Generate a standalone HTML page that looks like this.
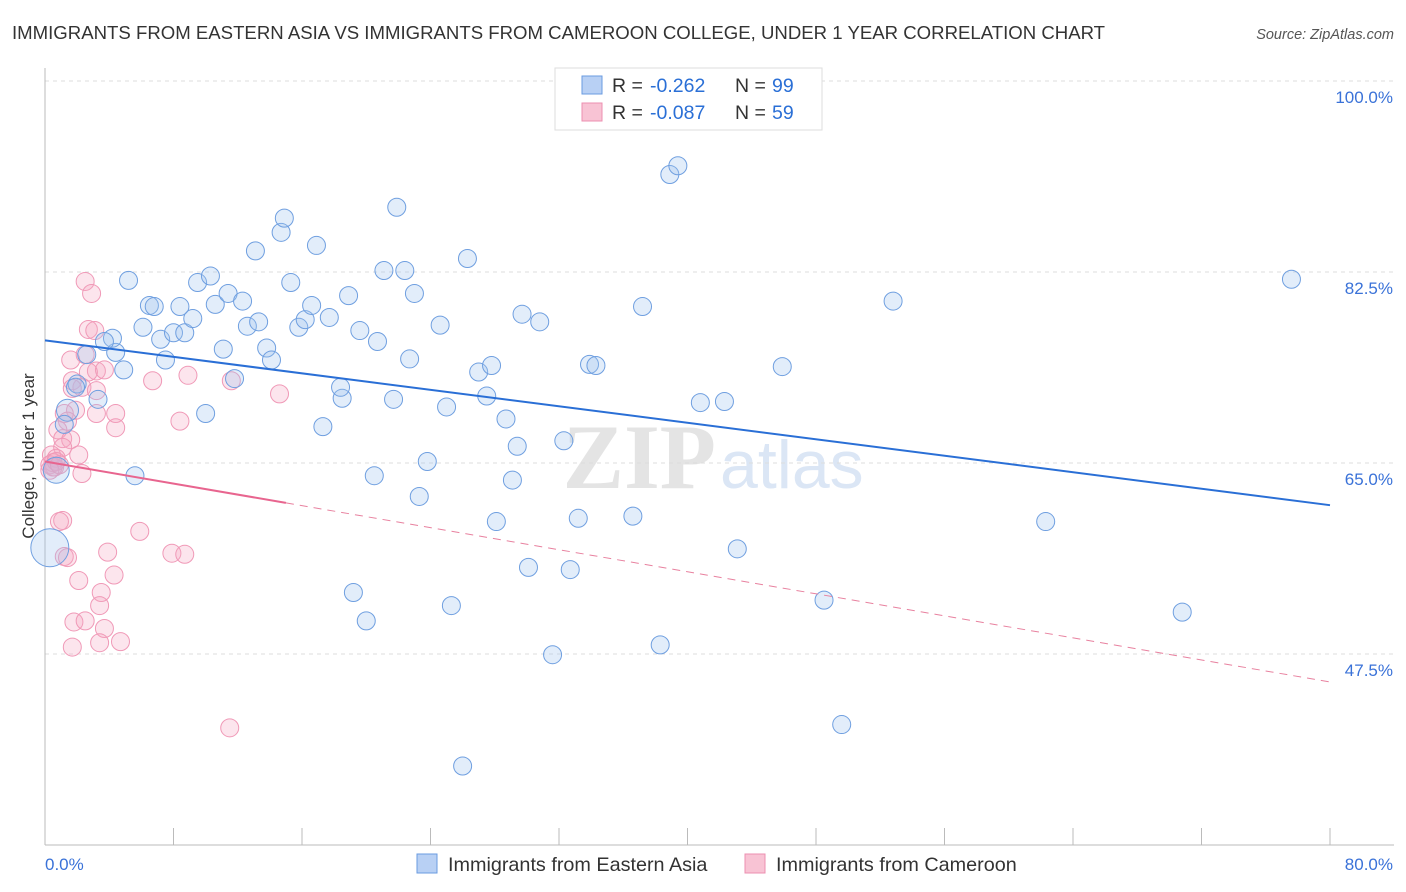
<!DOCTYPE html>
<html><head><meta charset="utf-8"><style>
body{margin:0;background:#fff;font-family:"Liberation Sans",sans-serif;}
#c{position:relative;width:1406px;height:892px;overflow:hidden}
</style></head><body>
<div id="c">
<svg id="s" width="1406" height="892">
<text x="12" y="39" font-size="18.6" fill="#333">IMMIGRANTS FROM EASTERN ASIA VS IMMIGRANTS FROM CAMEROON COLLEGE, UNDER 1 YEAR CORRELATION CHART</text>
<text x="1394" y="39" font-size="14.5" fill="#555" font-style="italic" text-anchor="end">Source: ZipAtlas.com</text>
<text x="716" y="488" font-size="92" fill="#e4e4e4" text-anchor="end" font-family="Liberation Serif" font-weight="bold">ZIP</text>
<text x="720" y="488" font-size="68" fill="#dbe6f5">atlas</text>
<text x="34" y="456" font-size="17" fill="#333" text-anchor="middle" transform="rotate(-90 34 456)">College, Under 1 year</text>
<g id="g"></g>
</svg>
</div>
<script>
const blueX=[5.2,6.5,6.8,8.4,6.1,7.2,8.0,8.7,9.2,9.5,10.3,10.6,11.4,12.3,12.6,13.3,13.1,14.7,14.9,13.8,14.1,11.8,11.1,10.0,7.5,4.9,4.4,4.2,3.7,2.6,2.0,1.9,3.3,1.4,1.2,0.3,0.7,5.6,15.3,15.8,16.2,16.6,16.9,17.7,18.9,19.6,20.7,21.1,22.4,23.0,21.9,22.7,24.6,26.3,27.0,27.8,27.5,28.7,29.4,25.0,21.7,18.5,18.4,17.3,20.5,23.3,23.8,29.1,28.1,30.1,32.7,33.2,32.3,33.9,34.3,29.7,30.8,37.2,36.6,38.9,39.4,40.8,42.3,43.1,45.9,52.8,62.3,77.6,70.8,48.5,49.6,38.3,31.6,26.0,25.3,20.0,19.2];
const blueY=[83.2,80.9,80.8,80.8,78.9,77.8,78.4,78.4,79.7,83.0,83.6,81.0,82.0,81.3,79.0,79.4,85.9,87.6,88.9,77.0,75.9,74.2,76.9,71.0,75.9,75.0,76.6,77.9,77.6,76.4,73.7,73.4,72.3,71.3,70.0,58.7,65.8,65.3,83.0,78.9,79.6,80.9,86.4,79.8,81.8,78.6,77.6,84.1,84.1,82.0,89.9,76.0,79.1,85.2,74.8,75.4,72.6,70.5,68.0,71.6,72.3,72.4,73.4,69.8,65.3,63.4,66.6,64.9,61.1,56.9,56.7,61.4,68.5,75.5,75.4,80.1,79.4,80.8,61.6,92.9,93.7,72.0,72.1,58.6,75.3,81.3,61.1,83.3,52.8,53.9,42.5,49.8,48.9,38.7,53.4,52.0,54.6];
const blueR=[9,9,9,9,9,9,9,9,9,9,9,9,9,9,9,9,9,9,9,9,9,9,9,9,9,9,9,9,9,9,9,9,9,11,9,19,13,9];
const pinkX=[2.5,2.9,2.7,3.1,1.6,2.5,3.2,3.7,2.7,1.7,2.3,3.2,1.7,1.9,1.2,3.2,4.4,4.4,1.4,0.8,1.1,1.6,1.1,2.1,0.4,0.7,0.3,0.6,2.3,0.5,1.1,0.9,1.2,1.4,2.1,3.9,5.9,7.9,8.7,4.3,3.5,3.4,1.8,2.5,3.7,1.7,3.4,4.7,6.7,8.9,8.4,11.6,14.6,11.5,0.5,0.7,0.3,0.9];
const pinkY=[83.1,82.0,78.7,78.6,75.9,76.4,74.9,75.0,74.8,74.0,73.4,73.1,73.3,71.3,71.0,71.0,71.0,69.7,70.3,69.5,68.7,68.6,67.9,67.2,67.2,66.9,66.3,66.1,65.5,66.5,61.2,61.1,57.9,57.8,55.7,58.3,60.2,58.2,58.1,56.2,54.6,53.4,51.9,52.0,51.3,49.6,50.0,50.1,74.0,74.5,70.3,74.0,72.8,42.2,66.1,66.6,65.8,66.3];
const blueTrend=[77.7,62.6];
const pinkTrend=[66.6,46.4];
const pinkSolidEnd=15;
const yTicks=[100,82.5,65,47.5];
const yTickLabels=["100.0%","82.5%","65.0%","47.5%"];
const xTicks=[0,8,16,24,32,40,48,56,64,72,80];
const xEndLabels=["0.0%","80.0%"];
const legendR=["-0.262","-0.087"], legendN=["99","59"];
const sx=v=>45+v*1285/80, sy=v=>97+(100-v)*10.914;
const NS="http://www.w3.org/2000/svg", g=document.getElementById('g');
function mk(t,a,p){const e=document.createElementNS(NS,t);for(const k in a)e.setAttribute(k,a[k]);(p||g).appendChild(e);return e;}
yTicks.forEach((v,i)=>{
 const l=mk('line',{x1:45,x2:1394,y1:sy(v)-16,y2:sy(v)-16,stroke:'#ddd','stroke-dasharray':'4 4'});
 
 
 const t=mk('text',{x:1393,y:sy(v)+6,'font-size':17,fill:'#3a72d8','text-anchor':'end'});t.textContent=yTickLabels[i];
 
 
});
const ax=mk('line',{x1:45,x2:45,y1:68,y2:845,stroke:'#bbb'});


const bx=mk('line',{x1:45,x2:1394,y1:845,y2:845,stroke:'#bbb'});


xTicks.forEach(v=>{const l=mk('line',{x1:sx(v),x2:sx(v),y1:828,y2:845,stroke:'#bbb'});
 
 });
[[0,'start'],[80,'end']].forEach((p,i)=>{const t=mk('text',{x:sx(p[0])+(i?63:0),y:870,'font-size':17,fill:'#3a72d8','text-anchor':p[1]});t.textContent=xEndLabels[i];
 
 });
pinkX.forEach((x,i)=>{const c=mk('circle',{cx:sx(x),cy:sy(pinkY[i]),r:9,fill:'rgba(244,170,195,0.3)',stroke:'#f099b7','stroke-width':1});
 
 });
blueX.forEach((x,i)=>{const c=mk('circle',{cx:sx(x),cy:sy(blueY[i]),r:blueR[i]||9,fill:'rgba(160,196,240,0.3)',stroke:'#6f9fe0','stroke-width':1});
 
 });
const bl=mk('line',{x1:sx(0),y1:sy(blueTrend[0]),x2:sx(80),y2:sy(blueTrend[1]),stroke:'#2a6fd6','stroke-width':2});


const pAt=v=>pinkTrend[0]+(pinkTrend[1]-pinkTrend[0])*v/80;
const pl=mk('line',{x1:sx(0),y1:sy(pAt(0)),x2:sx(pinkSolidEnd),y2:sy(pAt(pinkSolidEnd)),stroke:'#e8658f','stroke-width':2});


const pd=mk('line',{x1:sx(pinkSolidEnd),y1:sy(pAt(pinkSolidEnd)),x2:sx(80),y2:sy(pAt(80)),stroke:'#e8819f','stroke-width':1,'stroke-dasharray':'8 6'});


const lb=mk('rect',{x:555,y:68,width:267,height:62,fill:'#fff',stroke:'#ddd'});


[['#b8d0f4','#6a9be0'],['#f8c3d4','#ec8fb0']].forEach((c,i)=>{
 const y=76+i*27;
 const r=mk('rect',{x:582,y:y,width:20,height:18,fill:c[0],stroke:c[1]});
 
 
 const parts=[[612,'R =','#333'],[650,legendR[i],'#2a6fd6'],[735,'N =','#333'],[772,legendN[i],'#2a6fd6']];
 parts.forEach(p=>{
  const t=mk('text',{x:p[0],y:y+16,'font-size':19.5,fill:p[2]});t.textContent=p[1];
  
  
 });
});
[['Immigrants from Eastern Asia',417,'#b8d0f4','#6a9be0'],['Immigrants from Cameroon',745,'#f8c3d4','#ec8fb0']].forEach(d=>{
 const r=mk('rect',{x:d[1],y:854,width:20,height:19,fill:d[2],stroke:d[3]});
 
 
 const t=mk('text',{x:d[1]+31,y:871,'font-size':19.8,fill:'#333'});t.textContent=d[0];
 
 
});
</script>
</body></html>
